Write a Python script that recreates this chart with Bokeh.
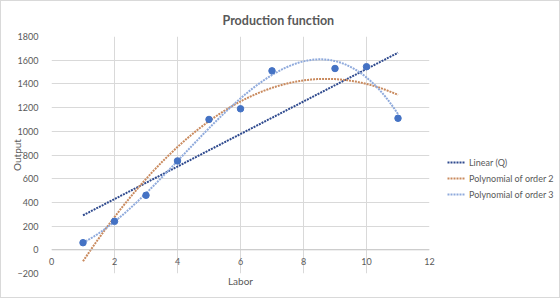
import numpy as np
from bokeh.plotting import figure
from bokeh.layouts import row
from bokeh.models import Range1d, SingleIntervalTicker, Legend, LegendItem, Span
from bokeh.embed import file_html
from bokeh.resources import INLINE

# Data
labor = [1, 2, 3, 4, 5, 6, 7, 9, 10, 11]
output = [60, 240, 460, 750, 1100, 1190, 1510, 1530, 1545, 1110]
series_names = ["Linear (Q)", "Polynomial of order 2", "Polynomial of order 3"]

FONT = "Lato"
GREY = "#595959"
GRID = "#d9d9d9"
colors = ["#2F4A8E", "#C98A5E", "#8FAADC"]

p = figure(width=446, height=296, output_backend="svg", toolbar_location=None,
           x_range=Range1d(0, 12), y_range=Range1d(-200, 1800),
           min_border_left=50, min_border_right=18, min_border_top=33, min_border_bottom=24)
p.outline_line_color = None
p.background_fill_color = "white"
p.border_fill_color = "white"

p.title.text = "Production function"
p.title.text_font = FONT
p.title.text_font_size = "12.5px"
p.title.text_font_style = "bold"
p.title.text_color = GREY
p.title.align = "left"
p.title.offset = 171
p.title.standoff = 18

p.xaxis.ticker = SingleIntervalTicker(interval=2)
p.yaxis.ticker = SingleIntervalTicker(interval=200)
p.xgrid.ticker = SingleIntervalTicker(interval=2)
p.ygrid.ticker = SingleIntervalTicker(interval=200)
for g in (p.xgrid, p.ygrid):
    g.grid_line_color = GRID
    g.grid_line_width = 1

for ax in (p.xaxis, p.yaxis):
    ax.axis_line_color = None
    ax.major_tick_line_color = None
    ax.minor_tick_line_color = None
    ax.major_label_text_font = FONT
    ax.major_label_text_font_size = "9px"
    ax.major_label_text_color = GREY
    ax.axis_label_text_font = FONT
    ax.axis_label_text_font_size = "10px"
    ax.axis_label_text_font_style = "normal"
    ax.axis_label_text_color = GREY
p.xaxis.axis_label = "Labor"
p.yaxis.axis_label = "Output"
# x labels sit just under the y = 0 axis line, as in the reference
p.xaxis.major_label_standoff = -22
p.xaxis.axis_label_standoff = 7
p.yaxis.major_label_standoff = 7
p.yaxis.axis_label_standoff = -8

# horizontal axis line at y = 0
p.add_layout(Span(location=0, dimension="width", line_color="#c8c8c8", line_width=1))

# Trendlines fitted to the data, evaluated over the data's x span
xs = np.linspace(min(labor), max(labor), 200)
fits = [np.polyval(np.polyfit(labor, output, d), xs) for d in (1, 2, 3)]

for f, c in zip(fits, colors):
    p.line(xs.tolist(), f.tolist(), line_color=c, line_width=2, line_dash="2 1")

p.scatter(labor, output, size=6.5, color="#4472C4")

# Legend panel (separate figure so that nothing is clipped); its lines carry
# the same fitted data but lie outside this panel's ranges, so only the legend shows
q = figure(width=112, height=296, output_backend="svg", toolbar_location=None,
           x_range=Range1d(-20, -19), y_range=Range1d(-20, -19),
           min_border=0, min_border_left=0, min_border_right=0,
           min_border_top=0, min_border_bottom=0)
q.axis.visible = False
q.grid.visible = False
q.outline_line_color = None
q.border_fill_color = "white"
q.background_fill_color = "white"
leg_r = [q.line(xs.tolist(), f.tolist(), line_color=c, line_width=2, line_dash="2 1")
         for f, c in zip(fits, colors)]
legend = Legend(items=[LegendItem(label=n, renderers=[r]) for n, r in zip(series_names, leg_r)])
legend.location = (0, 73)
legend.margin = 0
legend.padding = 0
legend.border_line_color = None
legend.background_fill_alpha = 0
legend.label_text_font = FONT
legend.label_text_font_size = "9px"
legend.label_text_color = GREY
legend.glyph_width = 18
legend.glyph_height = 12
legend.label_height = 12
legend.spacing = 4
legend.label_standoff = 4
q.add_layout(legend)

layout = row(p, q, spacing=0)
layout.styles = {"border": "1px solid #d9d9d9"}

open("out.html", "w").write(file_html(layout, INLINE))
